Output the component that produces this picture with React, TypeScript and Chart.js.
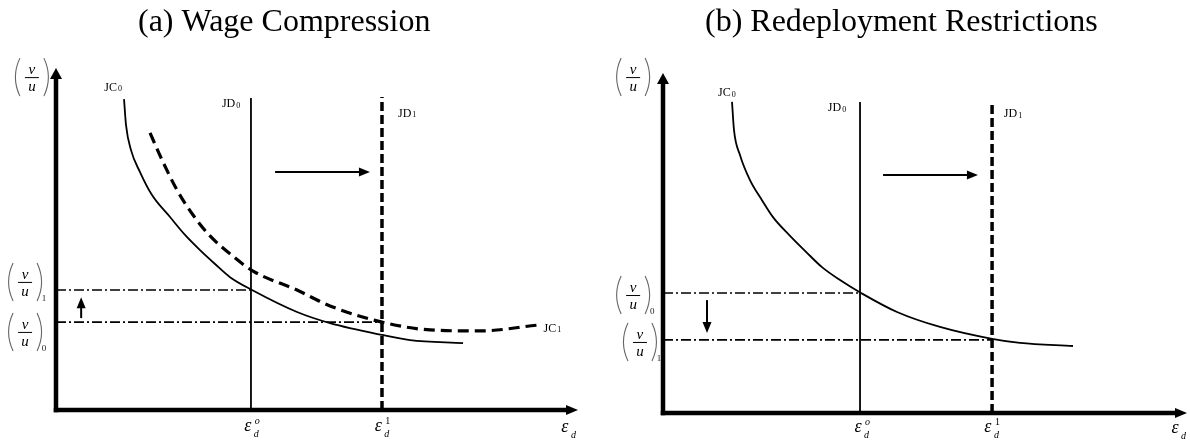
import React, { useEffect, useRef } from "react";
import { Chart, registerables } from "chart.js";

Chart.register(...registerables);

const SERIF = '"Liberation Serif", "Times New Roman", Times, serif';

// ---------------- Panel (a): Wage Compression ----------------
const A_TITLE = "(a) Wage Compression";
const A_JC0_X = [1.298, 1.336, 1.431, 1.603, 1.832, 2.176, 2.462, 2.748, 3.034, 3.321, 3.74, 4.599, 5.229, 6.221, 6.756, 7.767];
const A_JC0_Y = [9.20, 8.43, 7.69, 7.04, 6.36, 5.71, 5.18, 4.73, 4.32, 3.93, 3.55, 2.90, 2.57, 2.22, 2.07, 1.98];
const A_JC1_X = [1.794, 2.023, 2.309, 2.615, 2.939, 3.321, 3.76, 4.599, 5.229, 6.221, 7.137, 8.092, 9.179];
const A_JC1_Y = [8.20, 7.40, 6.51, 5.77, 5.15, 4.62, 4.11, 3.55, 3.08, 2.60, 2.37, 2.34, 2.51];
const A_JD_X = [3.72, 6.22]; // JD0, JD1
const A_JD_TOP = [9.23, 9.26];
const A_VU = [2.60, 3.55]; // (v/u)0, (v/u)1
const A_SHIFT_UP = [0.48, 2.72, 3.34]; // x, from y, to y
const A_SHIFT_RIGHT = [7.04, 4.18, 5.99]; // y, from x, to x

// ---------------- Panel (b): Redeployment Restrictions ----------------
const B_TITLE = "(b) Redeployment Restrictions";
const B_JC0_X = [1.317, 1.355, 1.469, 1.66, 1.889, 2.099, 2.424, 2.729, 3.034, 3.378, 3.779, 4.466, 5.286, 6.279, 6.813, 7.824];
const B_JC0_Y = [9.15, 8.32, 7.59, 6.85, 6.26, 5.76, 5.21, 4.74, 4.29, 3.91, 3.53, 2.97, 2.53, 2.18, 2.06, 1.97];
const B_JD_X = [3.76, 6.28]; // JD0, JD1
const B_JD_TOP = [9.15, 9.12];
const B_VU = [3.53, 2.15]; // (v/u)0, (v/u)1
const B_SHIFT_DOWN = [0.84, 3.32, 2.35]; // x, from y, to y
const B_SHIFT_RIGHT = [7.0, 4.20, 6.01]; // y, from x, to x

type Pt = { x: number; y: number };
const zip = (xs: number[], ys: number[]): Pt[] => xs.map((x, i) => ({ x, y: ys[i] }));

interface PanelSpec {
  title: string;
  titleLeft: number;
  padding: { left: number; right: number; top: number; bottom: number };
  xMax: number;
  yMax: number;
  curves: { pts: Pt[]; dashed: boolean }[];
  jd: { x: number; top: number; dashed: boolean }[];
  vu: { y: number; toX: number }[];
  shifts: { from: Pt; to: Pt }[];
  curveLabels: { main: string; sub: string; at: Pt }[];
  fracLabels: { sub: string; at: Pt }[];
  epsLabels: { sup: string; italicSup: boolean; at: Pt }[];
}

const PANEL_A: PanelSpec = {
  title: A_TITLE,
  titleLeft: 138,
  padding: { left: 56, right: 17, top: 68, bottom: 30 },
  xMax: 9.96,
  yMax: 10.12,
  curves: [
    { pts: zip(A_JC0_X, A_JC0_Y), dashed: false },
    { pts: zip(A_JC1_X, A_JC1_Y), dashed: true },
  ],
  jd: [
    { x: A_JD_X[0], top: A_JD_TOP[0], dashed: false },
    { x: A_JD_X[1], top: A_JD_TOP[1], dashed: true },
  ],
  vu: [
    { y: A_VU[1], toX: A_JD_X[0] },
    { y: A_VU[0], toX: A_JD_X[1] },
  ],
  shifts: [
    { from: { x: A_SHIFT_UP[0], y: A_SHIFT_UP[1] }, to: { x: A_SHIFT_UP[0], y: A_SHIFT_UP[2] } },
    { from: { x: A_SHIFT_RIGHT[1], y: A_SHIFT_RIGHT[0] }, to: { x: A_SHIFT_RIGHT[2], y: A_SHIFT_RIGHT[0] } },
  ],
  curveLabels: [
    { main: "JC", sub: "0", at: { x: 1.09, y: 9.56 } },
    { main: "JD", sub: "0", at: { x: 3.34, y: 9.08 } },
    { main: "JD", sub: "1", at: { x: 6.70, y: 8.79 } },
    { main: "JC", sub: "1", at: { x: 9.47, y: 2.43 } },
  ],
  fracLabels: [
    { sub: "", at: { x: -0.46, y: 9.85 } },
    { sub: "1", at: { x: -0.59, y: 3.79 } },
    { sub: "0", at: { x: -0.59, y: 2.31 } },
  ],
  epsLabels: [
    { sup: "o", italicSup: true, at: { x: 3.66, y: -0.5 } },
    { sup: "1", italicSup: false, at: { x: 6.15, y: -0.5 } },
    { sup: "", italicSup: false, at: { x: 9.71, y: -0.53 } },
  ],
};

const PANEL_B: PanelSpec = {
  title: B_TITLE,
  titleLeft: 110,
  padding: { left: 68, right: 3, top: 73, bottom: 27 },
  xMax: 10,
  yMax: 10,
  curves: [{ pts: zip(B_JC0_X, B_JC0_Y), dashed: false }],
  jd: [
    { x: B_JD_X[0], top: B_JD_TOP[0], dashed: false },
    { x: B_JD_X[1], top: B_JD_TOP[1], dashed: true },
  ],
  vu: [
    { y: B_VU[0], toX: B_JD_X[0] },
    { y: B_VU[1], toX: B_JD_X[1] },
  ],
  shifts: [
    { from: { x: B_SHIFT_DOWN[0], y: B_SHIFT_DOWN[1] }, to: { x: B_SHIFT_DOWN[0], y: B_SHIFT_DOWN[2] } },
    { from: { x: B_SHIFT_RIGHT[1], y: B_SHIFT_RIGHT[0] }, to: { x: B_SHIFT_RIGHT[2], y: B_SHIFT_RIGHT[0] } },
  ],
  curveLabels: [
    { main: "JC", sub: "0", at: { x: 1.22, y: 9.44 } },
    { main: "JD", sub: "0", at: { x: 3.32, y: 9.0 } },
    { main: "JD", sub: "1", at: { x: 6.68, y: 8.82 } },
  ],
  fracLabels: [
    { sub: "", at: { x: -0.57, y: 9.88 } },
    { sub: "0", at: { x: -0.57, y: 3.47 } },
    { sub: "1", at: { x: -0.44, y: 2.09 } },
  ],
  epsLabels: [
    { sup: "o", italicSup: true, at: { x: 3.72, y: -0.44 } },
    { sup: "1", italicSup: false, at: { x: 6.20, y: -0.44 } },
    { sup: "", italicSup: false, at: { x: 9.77, y: -0.47 } },
  ],
};

function arrowHead(
  ctx: CanvasRenderingContext2D,
  tipX: number,
  tipY: number,
  ux: number,
  uy: number,
  len: number,
  width: number
) {
  const bx = tipX - ux * len;
  const by = tipY - uy * len;
  const px = -uy;
  const py = ux;
  ctx.beginPath();
  ctx.moveTo(tipX, tipY);
  ctx.lineTo(bx + (px * width) / 2, by + (py * width) / 2);
  ctx.lineTo(bx - (px * width) / 2, by - (py * width) / 2);
  ctx.closePath();
  ctx.fill();
}

function drawFrac(ctx: CanvasRenderingContext2D, cx: number, cy: number, sub: string) {
  ctx.fillStyle = "#000";
  ctx.textAlign = "center";
  ctx.textBaseline = "alphabetic";
  ctx.font = `italic 15px ${SERIF}`;
  ctx.fillText("v", cx, cy - 3);
  ctx.fillText("u", cx, cy + 14);
  ctx.strokeStyle = "#000";
  ctx.lineWidth = 1;
  ctx.beginPath();
  ctx.moveTo(cx - 7, cy + 0.5);
  ctx.lineTo(cx + 7, cy + 0.5);
  ctx.stroke();
  ctx.strokeStyle = "#666";
  ctx.lineWidth = 1.1;
  ctx.beginPath();
  ctx.moveTo(cx - 12, cy - 19);
  ctx.quadraticCurveTo(cx - 21, cy, cx - 12, cy + 19);
  ctx.stroke();
  ctx.beginPath();
  ctx.moveTo(cx + 12, cy - 19);
  ctx.quadraticCurveTo(cx + 21, cy, cx + 12, cy + 19);
  ctx.stroke();
  if (sub) {
    ctx.fillStyle = "#222";
    ctx.font = `9px ${SERIF}`;
    ctx.textAlign = "center";
    ctx.fillText(sub, cx + 19, cy + 19);
  }
}

function drawEps(ctx: CanvasRenderingContext2D, cx: number, cy: number, sup: string, italicSup: boolean) {
  ctx.fillStyle = "#000";
  ctx.textBaseline = "alphabetic";
  ctx.textAlign = "center";
  ctx.font = `italic 18px ${SERIF}`;
  ctx.fillText("ε", cx, cy + 4);
  ctx.textAlign = "left";
  ctx.font = `italic 10px ${SERIF}`;
  ctx.fillText("d", cx + 6, cy + 10);
  if (sup) {
    ctx.font = `${italicSup ? "italic " : ""}10px ${SERIF}`;
    ctx.fillText(sup, cx + 7, cy - 3);
  }
}

function drawSubLabel(ctx: CanvasRenderingContext2D, main: string, sub: string, cx: number, cy: number) {
  ctx.fillStyle = "#000";
  ctx.textBaseline = "alphabetic";
  ctx.textAlign = "left";
  ctx.font = `12px ${SERIF}`;
  const wm = ctx.measureText(main).width;
  ctx.font = `8px ${SERIF}`;
  const ws = ctx.measureText(sub).width;
  const x0 = cx - (wm + ws + 1) / 2;
  ctx.font = `12px ${SERIF}`;
  ctx.fillText(main, x0, cy + 4);
  ctx.font = `8px ${SERIF}`;
  ctx.fillText(sub, x0 + wm + 1, cy + 4.5);
}

function diagramPlugin(spec: PanelSpec) {
  return {
    id: "diagram",
    afterDraw(chart: any) {
      const ctx = chart.ctx as CanvasRenderingContext2D;
      const X = (v: number) => chart.scales.x.getPixelForValue(v);
      const Y = (v: number) => chart.scales.y.getPixelForValue(v);
      ctx.save();

      // Title
      ctx.fillStyle = "#000";
      ctx.font = `32px ${SERIF}`;
      ctx.textAlign = "left";
      ctx.textBaseline = "alphabetic";
      ctx.fillText(spec.title, spec.titleLeft, 31);

      // Axes with arrowheads
      const ox = X(0);
      const oy = Y(0);
      const tx = X(spec.xMax);
      const ty = Y(spec.yMax);
      ctx.strokeStyle = "#000";
      ctx.fillStyle = "#000";
      ctx.lineCap = "butt";
      ctx.lineWidth = 4.5;
      ctx.beginPath();
      ctx.moveTo(ox - 2.25, oy);
      ctx.lineTo(tx - 10, oy);
      ctx.stroke();
      ctx.beginPath();
      ctx.moveTo(ox, oy + 2.25);
      ctx.lineTo(ox, ty + 9);
      ctx.stroke();
      arrowHead(ctx, tx, oy, 1, 0, 12, 10);
      arrowHead(ctx, ox, ty, 0, -1, 11, 12);

      // Shift arrows
      ctx.lineWidth = 2;
      for (const s of spec.shifts) {
        const x1 = X(s.from.x);
        const y1 = Y(s.from.y);
        const x2 = X(s.to.x);
        const y2 = Y(s.to.y);
        const len = Math.hypot(x2 - x1, y2 - y1);
        const ux = (x2 - x1) / len;
        const uy = (y2 - y1) / len;
        ctx.beginPath();
        ctx.moveTo(x1, y1);
        ctx.lineTo(x2 - ux * 9, y2 - uy * 9);
        ctx.stroke();
        arrowHead(ctx, x2, y2, ux, uy, 11, 9);
      }

      // Labels
      for (const l of spec.curveLabels) drawSubLabel(ctx, l.main, l.sub, X(l.at.x), Y(l.at.y));
      for (const f of spec.fracLabels) drawFrac(ctx, X(f.at.x), Y(f.at.y), f.sub);
      for (const e of spec.epsLabels) drawEps(ctx, X(e.at.x), Y(e.at.y), e.sup, e.italicSup);

      ctx.restore();
    },
  };
}

function buildDatasets(spec: PanelSpec) {
  const base = {
    borderColor: "#000",
    backgroundColor: "#000",
    pointRadius: 0,
    pointHoverRadius: 0,
    fill: false,
    clip: false as any,
    tension: 0,
  };
  const ds: any[] = [];
  for (const c of spec.curves) {
    ds.push({
      ...base,
      data: c.pts,
      borderWidth: c.dashed ? 3.2 : 1.8,
      borderDash: c.dashed ? [11, 6] : [],
      cubicInterpolationMode: "monotone",
    });
  }
  for (const j of spec.jd) {
    ds.push({
      ...base,
      data: [
        { x: j.x, y: 0 },
        { x: j.x, y: j.top },
      ],
      borderWidth: j.dashed ? 3.5 : 1.8,
      borderDash: j.dashed ? [9, 4] : [],
    });
  }
  for (const h of spec.vu) {
    ds.push({
      ...base,
      data: [
        { x: 0, y: h.y },
        { x: h.toX, y: h.y },
      ],
      borderWidth: 1.6,
      borderDash: [10, 3, 2, 3],
    });
  }
  return ds;
}

function PanelChart({ spec }: { spec: PanelSpec }) {
  const ref = useRef<HTMLCanvasElement | null>(null);
  useEffect(() => {
    if (!ref.current) return;
    const chart = new Chart(ref.current, {
      type: "line",
      data: { datasets: buildDatasets(spec) },
      options: {
        responsive: false,
        animation: false,
        devicePixelRatio: 1,
        events: [],
        layout: { padding: spec.padding },
        scales: {
          x: { type: "linear", min: 0, max: spec.xMax, display: false },
          y: { type: "linear", min: 0, max: spec.yMax, display: false },
        },
        plugins: {
          legend: { display: false },
          tooltip: { enabled: false },
          title: { display: false },
        },
      },
      plugins: [diagramPlugin(spec)],
    } as any);
    return () => chart.destroy();
  }, [spec]);
  return (
    <canvas
      ref={ref}
      width={595}
      height={440}
      style={{ display: "block", width: 595, height: 440 }}
    />
  );
}

export default function App() {
  return (
    <div
      style={{
        position: "fixed",
        left: 0,
        top: 0,
        width: 1190,
        height: 440,
        display: "flex",
        background: "#fff",
      }}
    >
      <PanelChart spec={PANEL_A} />
      <PanelChart spec={PANEL_B} />
    </div>
  );
}
